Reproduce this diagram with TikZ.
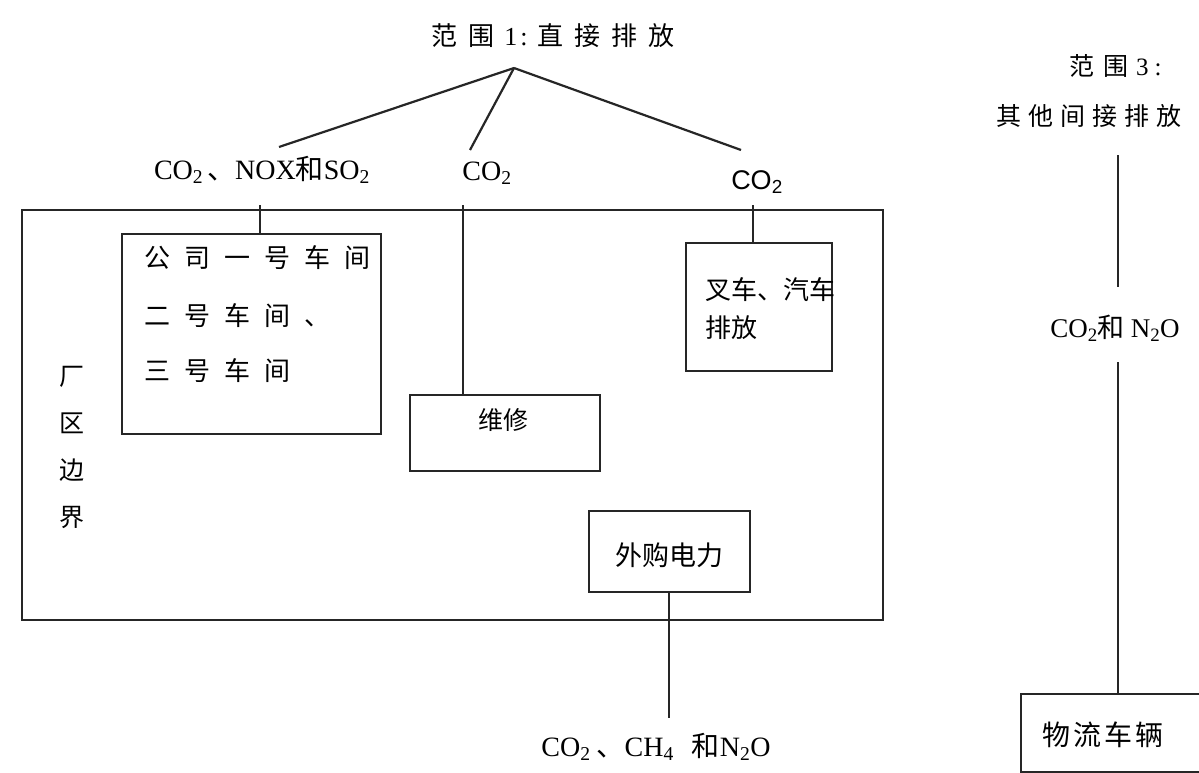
\documentclass[tikz,border=0pt]{standalone}
\usepackage{fontspec}
\setmainfont{Liberation Serif}
\newfontfamily\zh{Noto Sans CJK SC}
\newfontfamily\arial{Liberation Sans}
\newcommand\gp[1]{\hspace{#1pt}}
\tikzset{
  box/.style={draw=black!85, line width=2.2pt, rectangle, inner sep=0pt},
  conn/.style={draw=black!85, line width=2.2pt},
  lbl/.style={inner sep=0pt, font=\fontsize{28}{32}\selectfont},
  zht/.style={inner sep=0pt, font=\zh\fontsize{25}{30}\selectfont},
}
\begin{document}
\begin{tikzpicture}[x=1pt,y=-1pt]
\useasboundingbox (0,0) rectangle (1199,773);
\clip (0,0) rectangle (1199,773);
\fill[white] (0,0) rectangle (1199,773);

% plant boundary
\node[box, minimum width=861pt, minimum height=410pt] (plant) at (452.5,415) {};
\node[zht, align=center, font=\zh\fontsize{25}{47}\selectfont] (plantlbl) at (72,447) {厂\\区\\边\\界};

% scope 1
\node[lbl, font=\fontsize{26}{30}\selectfont] (scope1) at (553,36)
  {{\zh 范}\gp{11}{\zh 围}\gp{10}1\gp{3}:\gp{10}{\zh 直}\gp{11}{\zh 接}\gp{11}{\zh 排}\gp{11}{\zh 放}};
\coordinate (s1tip) at (514,68);
\coordinate (e1) at (279,147);
\coordinate (e2) at (470,150);
\coordinate (e3) at (741,150);

\node[lbl] (lab1) at (262,170) {CO\textsubscript{2}\gp{4}{\zh 、}NOX{\zh 和}SO\textsubscript{2}};
\node[lbl] (lab2) at (487,173) {CO\textsubscript{2}};
\node[lbl, font=\arial\fontsize{27}{32}\selectfont] (lab3) at (757,182) {CO\textsubscript{2}};

\draw[conn] (s1tip) -- (e1);
\draw[conn] (s1tip) -- (e2);
\draw[conn] (s1tip) -- (e3);

% boxes
\node[box, minimum width=259pt, minimum height=200pt] (box1) at (251.5,334) {};
\node[zht, anchor=west, font=\zh\fontsize{26}{30}\selectfont] (b1l1) at (144,258) {公\gp{14}司\gp{14}一\gp{14}号\gp{14}车\gp{14}间};
\node[zht, anchor=west, font=\zh\fontsize{26}{30}\selectfont] (b1l2) at (144,316) {二\gp{14}号\gp{14}车\gp{14}间\gp{14}、};
\node[zht, anchor=west, font=\zh\fontsize{26}{30}\selectfont] (b1l3) at (144,371) {三\gp{14}号\gp{14}车\gp{14}间};

\node[box, minimum width=146pt, minimum height=128pt] (fork) at (759,307) {};
\node[zht, anchor=west, font=\zh\fontsize{26}{30}\selectfont] (forkl1) at (705,290) {叉车、汽车};
\node[zht, anchor=west, font=\zh\fontsize{26}{30}\selectfont] (forkl2) at (705,328) {排放};

\node[box, minimum width=190pt, minimum height=76pt] (repair) at (505,433) {};
\node[zht] (repairlbl) at (503,420) {维修};

\node[box, minimum width=161pt, minimum height=81pt] (power) at (669.5,551.5) {};
\node[zht, font=\zh\fontsize{27}{30}\selectfont] (powerlbl) at (669,555) {外购电力};

\coordinate (t1) at (260,205);
\coordinate (t2) at (463,205);
\coordinate (t3) at (753,205);
\draw[conn] (t1) -- (t1 |- box1.north);
\draw[conn] (t2) -- (t2 |- repair.north);
\draw[conn] (t3) -- (t3 |- fork.north);

\coordinate (e4) at (669,718);
\draw[conn] (power.south -| e4) -- (e4);
\node[lbl] (lab4) at (656,747) {CO\textsubscript{2}\gp{6}{\zh 、}CH\textsubscript{4}\gp{18}{\zh 和}N\textsubscript{2}O};

% scope 3
\node[zht, anchor=west] (scope3a) at (1069,66) {范\gp{9}围\gp{8}{\fontspec{Liberation Serif}3}\gp{6}{\fontspec{Liberation Serif}:}};
\node[zht] (scope3b) at (1089,116) {其\gp{7}他\gp{7}间\gp{7}接\gp{7}排\gp{7}放};
\coordinate (s3a) at (1118,155);
\coordinate (s3b) at (1118,287);
\draw[conn] (s3a) -- (s3b);
\node[lbl, font=\fontsize{27}{30}\selectfont] (gas3) at (1115,328) {CO\textsubscript{2}{\zh 和}\gp{6}N\textsubscript{2}O};
\coordinate (s3c) at (1118,362);
\node[box, minimum width=194pt, minimum height=78pt] (logi) at (1118,733) {};
\draw[conn] (s3c) -- (logi.north);
\node[zht, font=\zh\fontsize{28}{30}\selectfont] (logilbl) at (1103,735) {物\gp{3}流\gp{3}车\gp{3}辆};
\end{tikzpicture}
\end{document}
